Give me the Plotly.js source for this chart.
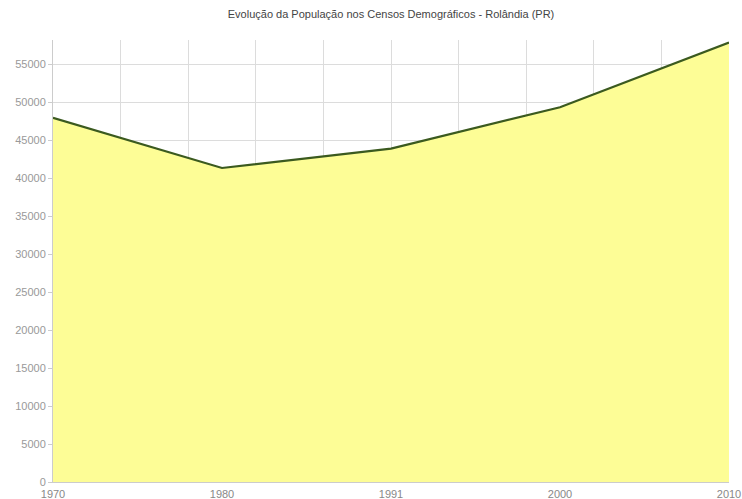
<!DOCTYPE html>
<html>
<head>
<meta charset="utf-8">
<script src="https://cdn.plot.ly/plotly-3.0.1.min.js"></script>
<style>html,body{margin:0;padding:0;background:#fff;}#chart{width:742px;height:499px;}</style>
</head>
<body>
<div id="chart"></div>
<script>
const years = ["1970", "1980", "1991", "2000", "2010"];
const population = [47950, 41350, 43900, 49350, 57862];
const chartTitle = "Evolução da População nos Censos Demográficos - Rolândia (PR)";

const idx = years.map((_, i) => i);

const traces = [
  {
    x: idx, y: population, xaxis: 'x', yaxis: 'y',
    type: 'scatter', mode: 'lines', fill: 'tozeroy',
    fillcolor: '#fdfd96',
    line: {color: '#3b5a1f', width: 2.2},
    hoverinfo: 'skip', showlegend: false
  },
  {
    x: idx, y: population, xaxis: 'x2', yaxis: 'y',
    type: 'scatter', mode: 'none', hoverinfo: 'skip', showlegend: false
  }
];

const layout = {
  width: 742, height: 499,
  margin: {l: 53, r: 13, t: 40, b: 17},
  paper_bgcolor: '#fff', plot_bgcolor: '#fff',
  font: {family: 'Liberation Sans, Arial, sans-serif', color: '#999', size: 11},
  title: {text: chartTitle, x: 0.527, xanchor: 'center', y: 0.972, yanchor: 'middle',
          font: {size: 11, color: '#444', family: 'Liberation Sans, Arial, sans-serif'}},
  xaxis: {
    range: [0, years.length - 1], tickmode: 'linear', tick0: 0, dtick: 0.4,
    showticklabels: false, showgrid: true, gridcolor: '#dcdcdc', gridwidth: 1,
    zeroline: false, showline: false, ticks: ''
  },
  xaxis2: {
    overlaying: 'x', anchor: 'y', side: 'bottom',
    range: [0, years.length - 1], tickmode: 'array', tickvals: idx, ticktext: years,
    showgrid: false, zeroline: false, showline: true, linecolor: '#ccc', linewidth: 1,
    ticks: '', ticklen: 0, tickfont: {size: 11, color: '#888'}, ticklabelstandoff: 2
  },
  yaxis: {
    range: [0, 58200], tickmode: 'linear', tick0: 0, dtick: 5000, tickformat: 'd',
    showgrid: true, gridcolor: '#dcdcdc', gridwidth: 1,
    zeroline: false, showline: true, linecolor: '#ccc', linewidth: 1,
    ticks: 'outside', ticklen: 4, tickcolor: '#ccc',
    tickfont: {size: 11, color: '#999'}, ticklabelstandoff: 0
  }
};

Plotly.newPlot('chart', traces, layout, {displayModeBar: false, staticPlot: true});
</script>
</body>
</html>
